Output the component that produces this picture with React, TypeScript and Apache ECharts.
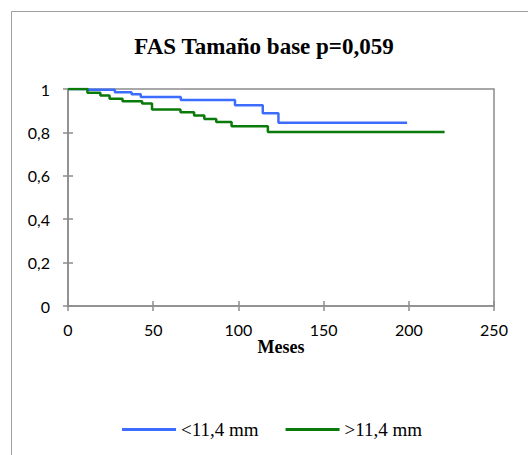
import React, { useEffect, useRef } from "react";
import * as echarts from "echarts";

// Kaplan-Meier curves: [month, survival] at each drop
const seriesNames = ["<11,4 mm", ">11,4 mm"];
const smallTumour: [number, number][] = [
  [0, 1],
  [12, 0.996],
  [27.5, 0.985],
  [37.3, 0.976],
  [42.7, 0.963],
  [66.2, 0.949],
  [98, 0.925],
  [114.3, 0.888],
  [123.5, 0.845],
  [199, 0.845],
];
const largeTumour: [number, number][] = [
  [0, 1],
  [11.4, 0.983],
  [19, 0.97],
  [24.4, 0.955],
  [32, 0.944],
  [43.5, 0.933],
  [49.3, 0.905],
  [66, 0.893],
  [74, 0.878],
  [80, 0.862],
  [87, 0.848],
  [96, 0.828],
  [117.3, 0.802],
  [221, 0.802],
];
const xTicks = [0, 50, 100, 150, 200, 250];
const yTicks = [0, 0.2, 0.4, 0.6, 0.8, 1];

const AXIS_GREY = "#8c8c8c";
const SANS = "Lato, 'Open Sans', sans-serif";
const SERIF = "'Liberation Serif', 'Times New Roman', serif";

const tickStyle = { color: AXIS_GREY, width: 1.5 };

export default function App() {
  const ref = useRef<HTMLDivElement>(null);

  useEffect(() => {
    if (!ref.current) return;
    const chart = echarts.init(ref.current, undefined, { renderer: "svg" });
    const fmtY = (v: number) => String(v).replace(".", ",");
    chart.setOption({
      animation: false,
      backgroundColor: "#ffffff",
      title: {
        text: "FAS Tamaño base p=0,059",
        left: "center",
        top: 30,
        textStyle: {
          fontFamily: SERIF,
          fontWeight: "bold",
          fontSize: 23,
          color: "#000",
        },
      },
      graphic: [
        {
          type: "rect",
          shape: { x: 11.5, y: 11.5, width: 600, height: 600 },
          style: { fill: "none", stroke: "#a0a0a0", lineWidth: 1 },
          silent: true,
        },
      ],
      legend: {
        left: 117,
        top: 415,
        itemWidth: 54,
        itemHeight: 3,
        itemGap: 27,
        icon: "rect",
        textStyle: { fontFamily: SERIF, fontSize: 19, color: "#000" },
        data: seriesNames,
      },
      grid: {
        left: 68,
        right: 34,
        top: 89,
        bottom: 149,
        show: true,
        borderColor: AXIS_GREY,
        borderWidth: 1.5,
      },
      xAxis: [
        {
          type: "value",
          min: xTicks[0],
          max: xTicks[xTicks.length - 1],
          interval: 50,
          name: "Meses",
          nameLocation: "middle",
          nameGap: 31,
          nameTextStyle: {
            fontFamily: SERIF,
            fontWeight: "bold",
            fontSize: 18,
            color: "#000",
          },
          axisLine: { show: true, onZero: false, lineStyle: { color: AXIS_GREY, width: 1.5 } },
          axisTick: { show: true, length: 5, lineStyle: tickStyle },
          axisLabel: { fontFamily: SANS, fontSize: 16, color: "#000", margin: 15 },
          splitLine: { show: false },
        },
        {
          // inner half of the crossing tick marks
          type: "value",
          position: "bottom",
          min: xTicks[0],
          max: xTicks[xTicks.length - 1],
          interval: 50,
          axisLine: { show: true, onZero: false, lineStyle: { color: "rgba(0,0,0,0)" } },
          axisTick: { show: true, inside: true, length: 5, lineStyle: tickStyle },
          axisLabel: { show: false },
          splitLine: { show: false },
        },
      ],
      yAxis: [
        {
          type: "value",
          min: yTicks[0],
          max: yTicks[yTicks.length - 1],
          interval: 0.2,
          axisLine: { show: true, onZero: false, lineStyle: { color: AXIS_GREY, width: 1.5 } },
          axisTick: { show: true, length: 5, lineStyle: tickStyle },
          axisLabel: {
            fontFamily: SANS,
            fontSize: 16,
            color: "#000",
            margin: 18,
            formatter: fmtY,
          },
          splitLine: { show: false },
        },
        {
          type: "value",
          position: "left",
          min: yTicks[0],
          max: yTicks[yTicks.length - 1],
          interval: 0.2,
          axisLine: { show: true, onZero: false, lineStyle: { color: "rgba(0,0,0,0)" } },
          axisTick: { show: true, inside: true, length: 5, lineStyle: tickStyle },
          axisLabel: { show: false },
          splitLine: { show: false },
        },
      ],
      series: [
        {
          name: seriesNames[0],
          type: "line",
          step: "end",
          data: smallTumour,
          showSymbol: false,
          symbol: "none",
          color: "#3d6dff",
          lineStyle: { width: 2.5, color: "#3d6dff" },
        },
        {
          name: seriesNames[1],
          type: "line",
          step: "end",
          data: largeTumour,
          showSymbol: false,
          symbol: "none",
          color: "#0a7a0a",
          lineStyle: { width: 2.5, color: "#0a7a0a" },
        },
      ],
    });
    return () => chart.dispose();
  }, []);

  return (
    <div
      ref={ref}
      style={{ position: "fixed", left: 0, top: 0, width: 528, height: 455 }}
    />
  );
}
